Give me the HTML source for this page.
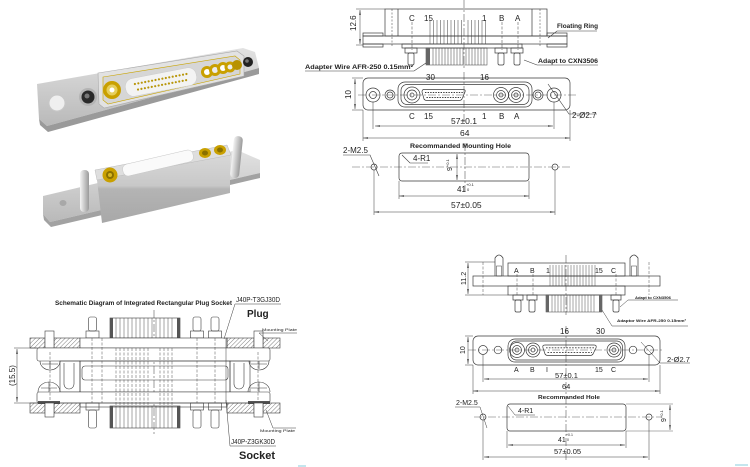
<!DOCTYPE html>
<html><head><meta charset="utf-8"><style>
html,body{margin:0;padding:0;background:#fff;}
svg{display:block;}
text{font-family:"Liberation Sans",sans-serif;fill:#222;stroke:none;}
.n{font-family:"Liberation Sans Narrow","Liberation Sans",sans-serif;}
.b{font-weight:bold;}
</style></head><body>
<svg width="750" height="467" viewBox="0 0 750 467" xmlns="http://www.w3.org/2000/svg">
<defs>
<marker id="a" viewBox="0 0 10 10" refX="10" refY="5" markerUnits="userSpaceOnUse" markerWidth="5" markerHeight="5" orient="auto-start-reverse"><path d="M0,3.4 L10,5 L0,6.6 z" fill="#333"/></marker>
<pattern id="h" patternUnits="userSpaceOnUse" width="3" height="3" patternTransform="rotate(45)"><line x1="0" y1="0" x2="0" y2="3" stroke="#444" stroke-width="0.7"/></pattern>
<linearGradient id="gf" x1="0" y1="0" x2="0" y2="1"><stop offset="0" stop-color="#e2e2e2"/><stop offset="1" stop-color="#b9b9b9"/></linearGradient>
<linearGradient id="gb" x1="0" y1="0" x2="0" y2="1"><stop offset="0" stop-color="#d8d8d8"/><stop offset="0.45" stop-color="#c8c8c8"/><stop offset="0.5" stop-color="#b4b4b4"/><stop offset="1" stop-color="#a8a8a8"/></linearGradient>
<linearGradient id="gp" x1="0" y1="0" x2="1" y2="0"><stop offset="0" stop-color="#f4f4f4"/><stop offset="1" stop-color="#9a9a9a"/></linearGradient>
</defs>

<!-- ============ PHOTO ============ -->
<g>
<polygon points="37,84 243,48 255,52 259,68 47,126 39,119" fill="url(#gf)"/>
<polygon points="39,119 47,126 259,68 259,74 48,132 40,125" fill="#9a9a9a"/>
<ellipse cx="57" cy="103" rx="8" ry="8" fill="#efefef" stroke="#c8c8c8"/>
<circle cx="88" cy="97" r="9" fill="#b4b4b4"/>
<circle cx="88" cy="97" r="6.5" fill="#2a2a2a"/>
<circle cx="87" cy="96" r="2.5" fill="#777"/>
<polygon points="98,73 237,51 244,56 244,76 104,108 99,104" fill="#e2e2e2" stroke="#aaa" stroke-width="0.6"/>
<polygon points="103,77 235,56 240,60 240,74 108,104 103,100" fill="#d6d6d6" stroke="#c9a400" stroke-width="0.6"/>
<g transform="translate(161,82) rotate(-11)">
<rect x="-36" y="-9" width="72" height="18" rx="8" fill="#f3f3f3" stroke="#ccc" stroke-width="0.5"/>
<g fill="#b8960a">
<circle cx="-26" cy="-3" r="1.1"/><circle cx="-22.5" cy="-3" r="1.1"/><circle cx="-19" cy="-3" r="1.1"/><circle cx="-15.5" cy="-3" r="1.1"/><circle cx="-12" cy="-3" r="1.1"/><circle cx="-8.5" cy="-3" r="1.1"/><circle cx="-5" cy="-3" r="1.1"/><circle cx="-1.5" cy="-3" r="1.1"/><circle cx="2" cy="-3" r="1.1"/><circle cx="5.5" cy="-3" r="1.1"/><circle cx="9" cy="-3" r="1.1"/><circle cx="12.5" cy="-3" r="1.1"/><circle cx="16" cy="-3" r="1.1"/><circle cx="19.5" cy="-3" r="1.1"/><circle cx="23" cy="-3" r="1.1"/><circle cx="26.5" cy="-3" r="1.1"/>
<circle cx="-24" cy="3" r="1.1"/><circle cx="-20.5" cy="3" r="1.1"/><circle cx="-17" cy="3" r="1.1"/><circle cx="-13.5" cy="3" r="1.1"/><circle cx="-10" cy="3" r="1.1"/><circle cx="-6.5" cy="3" r="1.1"/><circle cx="-3" cy="3" r="1.1"/><circle cx="0.5" cy="3" r="1.1"/><circle cx="4" cy="3" r="1.1"/><circle cx="7.5" cy="3" r="1.1"/><circle cx="11" cy="3" r="1.1"/><circle cx="14.5" cy="3" r="1.1"/><circle cx="18" cy="3" r="1.1"/><circle cx="21.5" cy="3" r="1.1"/><circle cx="25" cy="3" r="1.1"/>
</g></g>
<circle cx="112" cy="90" r="9" fill="#c9a000"/><circle cx="112" cy="90" r="5.5" fill="#e6cf5c"/><circle cx="112" cy="90" r="2.5" fill="#fff"/>
<circle cx="207" cy="72" r="6" fill="#c9a000"/><circle cx="207" cy="72" r="3" fill="#fff"/>
<circle cx="215" cy="70" r="6" fill="#c9a000"/><circle cx="215" cy="70" r="3" fill="#ececec"/>
<circle cx="223" cy="68" r="6" fill="#c9a000"/><circle cx="223" cy="68" r="3" fill="#fff"/>
<circle cx="230" cy="67" r="5.5" fill="#c9a000"/><circle cx="230" cy="67" r="2.5" fill="#eee"/>
<circle cx="237" cy="65" r="5" fill="#b89200"/>
<circle cx="248" cy="62" r="5" fill="#222"/><circle cx="247" cy="61" r="1.8" fill="#777"/>

<polygon points="43,196 237,150 260,160 260,173 50,222 43,214" fill="url(#gf)"/>
<polygon points="43,214 50,222 260,173 260,178 51,227 44,220" fill="#a2a2a2"/>
<ellipse cx="63" cy="203" rx="3.5" ry="3" fill="#a8a8a8"/>
<polygon points="97,180 230,155 230,193 102,223" fill="url(#gb)"/>
<polygon points="95,170 227,145 231,155 97,180" fill="#dedede" stroke="#bbb" stroke-width="0.5"/>
<g transform="translate(158,163) rotate(-13)">
<rect x="-36" y="-6" width="72" height="12" rx="5" fill="#fafafa" stroke="#c8c8c8" stroke-width="0.5"/>
</g>
<circle cx="110" cy="175" r="7.5" fill="#c9a000"/><circle cx="110" cy="175" r="4" fill="#8a7000"/><circle cx="110" cy="175" r="2" fill="#d8b820"/>
<ellipse cx="205" cy="153" rx="6" ry="5" fill="#c9a000"/><ellipse cx="205" cy="153" rx="3" ry="2.5" fill="#8a7000"/>
<ellipse cx="220" cy="150" rx="6" ry="5" fill="#c9a000"/><ellipse cx="220" cy="150" rx="3" ry="2.5" fill="#8a7000"/>
<rect x="80" y="170" width="9" height="42" rx="4" fill="url(#gp)"/>
<rect x="232" y="136" width="9" height="42" rx="4" fill="url(#gp)" transform="rotate(6 236 157)"/>
</g>

<!-- ============ TOP-RIGHT SIDE VIEW ============ -->
<g stroke="#3a3a3a" stroke-width="0.7" fill="none">
<line x1="464" y1="0" x2="464" y2="70" stroke-dasharray="8 2 2 2" stroke-width="0.5"/>
<rect x="385" y="9" width="162" height="27"/>
<line x1="398" y1="9" x2="398" y2="36"/><line x1="532" y1="9" x2="532" y2="36"/>
<line x1="392" y1="9" x2="392" y2="47" stroke-dasharray="2 1.5" stroke-width="0.5"/>
<line x1="540" y1="9" x2="540" y2="47" stroke-dasharray="2 1.5" stroke-width="0.5"/>
<rect x="363" y="36" width="204" height="8"/>
<rect x="363" y="33" width="20" height="3"/><rect x="547" y="33" width="20" height="3"/>
<rect x="363" y="44" width="20" height="3"/><rect x="547" y="44" width="20" height="3"/>
<rect x="402" y="44" width="120" height="4"/>
<g stroke-width="0.5">
<line x1="412" y1="22" x2="412" y2="50" stroke-dasharray="3 1.5"/>
<line x1="502" y1="22" x2="502" y2="50" stroke-dasharray="3 1.5"/>
<line x1="518" y1="22" x2="518" y2="50" stroke-dasharray="3 1.5"/>
<path d="M430,20V44M433.5,20V44M437,20V44M440.5,20V44M444,20V44M447.5,20V44M451,20V44M454.5,20V44M458,20V44M461.5,20V44M468,20V44M471.5,20V44M475,20V44M478.5,20V44M482,20V44M485.5,20V44"/>
</g>
<rect x="405" y="48" width="12" height="5"/><rect x="408" y="53" width="6" height="12" rx="1.5"/>
<rect x="495" y="48" width="12" height="5"/><rect x="498" y="53" width="6" height="12" rx="1.5"/>
<rect x="511" y="48" width="12" height="5"/><rect x="514" y="53" width="6" height="12" rx="1.5"/>
<rect x="426" y="48" width="61" height="17" stroke-width="0.5"/>
<rect x="426" y="48" width="4" height="17" fill="#666" stroke="none"/>
<path stroke-width="0.5" d="M433,48V65M436,48V65M439,48V65M442,48V65M445,48V65M448,48V65M451,48V65M454,48V65M457,48V65M460,48V65M463,48V65M466,48V65M469,48V65M472,48V65M475,48V65M478,48V65M481,48V65M484,48V65"/>
<line x1="360" y1="10" x2="360" y2="44" marker-start="url(#a)" marker-end="url(#a)" stroke-width="0.5"/>
<line x1="356" y1="9" x2="385" y2="9" stroke-width="0.5"/><line x1="356" y1="45" x2="363" y2="45" stroke-width="0.5"/>
<path d="M597,31H557L548,38" stroke-width="0.6"/>
<path d="M598,65H537L524,60" stroke-width="0.6"/>
<path d="M305,71H414L426,63" stroke-width="0.6"/>
</g>
<text class="n" font-size="8" x="409" y="21">C</text>
<text class="n" font-size="8" x="424" y="21">15</text>
<text class="n" font-size="8" x="482" y="21">1</text>
<text class="n" font-size="8" x="499" y="21">B</text>
<text class="n" font-size="8" x="515" y="21">A</text>
<text class="n" font-size="8" transform="translate(356,31) rotate(-90)">12.6</text>
<text class="b" font-size="6.5" x="557" y="28" textLength="41" lengthAdjust="spacingAndGlyphs">Floating Ring</text>
<text class="b" font-size="6.5" x="538" y="63" textLength="60" lengthAdjust="spacingAndGlyphs">Adapt to CXN3506</text>
<text class="b" font-size="6.5" x="305" y="69" textLength="108" lengthAdjust="spacingAndGlyphs">Adapter Wire AFR-250  0.15mm²</text>

<!-- ============ TOP-RIGHT FRONT VIEW ============ -->
<g stroke="#3a3a3a" stroke-width="0.7" fill="none">
<line x1="358" y1="95" x2="578" y2="95" stroke-dasharray="8 2 2 2" stroke-width="0.4"/>
<line x1="464" y1="72" x2="464" y2="122" stroke-dasharray="8 2 2 2" stroke-width="0.5"/>
<rect x="363" y="78" width="207" height="32" rx="5"/>
<rect x="398" y="82" width="134" height="25" rx="7"/>
<rect x="401" y="84.5" width="128" height="20" rx="6"/>
<circle cx="373" cy="95" r="7"/><circle cx="373" cy="95" r="3.5"/>
<circle cx="390" cy="95" r="5"/><circle cx="390" cy="95" r="3"/>
<circle cx="538" cy="95" r="5"/><circle cx="538" cy="95" r="3"/>
<circle cx="554" cy="95" r="7"/><circle cx="554" cy="95" r="3.5"/>
<circle cx="412" cy="95" r="8"/><circle cx="412" cy="95" r="5"/><circle cx="412" cy="95" r="2"/>
<circle cx="501" cy="95" r="7.5"/><circle cx="501" cy="95" r="4.5"/><circle cx="501" cy="95" r="2"/>
<circle cx="516" cy="95" r="7.5"/><circle cx="516" cy="95" r="4.5"/><circle cx="516" cy="95" r="2"/>
<path d="M424,89.5H463Q466,89.5 465,92L462,99Q461,100.5 459,100.5H427Q425,100.5 424,99L422,92Q422,89.5 424,89.5Z"/>
<path stroke-width="0.9" stroke-dasharray="1.4 1.2" d="M425,92.5H463M426.5,97.5H461"/>
<line x1="375" y1="126" x2="553" y2="126" marker-start="url(#a)" marker-end="url(#a)" stroke-width="0.5"/>
<line x1="373" y1="102" x2="373" y2="129" stroke-width="0.5"/><line x1="554" y1="102" x2="554" y2="129" stroke-width="0.5"/>
<line x1="363" y1="138" x2="570" y2="138" marker-start="url(#a)" marker-end="url(#a)" stroke-width="0.5"/>
<line x1="363" y1="110" x2="363" y2="141" stroke-width="0.5"/><line x1="570" y1="110" x2="570" y2="141" stroke-width="0.5"/>
<line x1="355" y1="79" x2="355" y2="109" marker-start="url(#a)" marker-end="url(#a)" stroke-width="0.5"/>
<line x1="352" y1="78" x2="363" y2="78" stroke-width="0.5"/><line x1="352" y1="110" x2="363" y2="110" stroke-width="0.5"/>
<path d="M548,84L569,114H597" stroke-width="0.6"/>
</g>
<text class="n" font-size="8" x="426" y="80">30</text>
<text class="n" font-size="8" x="480" y="80">16</text>
<text class="n" font-size="8" x="409" y="119">C</text>
<text class="n" font-size="8" x="424" y="119">15</text>
<text class="n" font-size="8" x="482" y="119">1</text>
<text class="n" font-size="8" x="499" y="119">B</text>
<text class="n" font-size="8" x="514" y="119">A</text>
<text class="n" font-size="8.5" x="451" y="124">57±0.1</text>
<text class="n" font-size="8.5" x="460" y="136">64</text>
<text class="n" font-size="8" transform="translate(351,99) rotate(-90)">10</text>
<text class="n" font-size="8" x="572" y="118">2-Ø2.7</text>

<!-- ============ TOP-RIGHT MOUNTING HOLE ============ -->
<g stroke="#3a3a3a" stroke-width="0.7" fill="none">
<line x1="352" y1="167" x2="570" y2="167" stroke-dasharray="8 2 2 2" stroke-width="0.4"/>
<line x1="465" y1="143" x2="465" y2="192" stroke-dasharray="8 2 2 2" stroke-width="0.5"/>
<rect x="399" y="153" width="130" height="28" rx="3"/>
<circle cx="374" cy="167" r="3"/><circle cx="555" cy="167" r="3"/>
<path d="M343,155H370L379,176" stroke-width="0.6"/>
<path d="M402,155L410,163H428" stroke-width="0.6"/>
<line x1="457" y1="154" x2="457" y2="180" marker-start="url(#a)" marker-end="url(#a)" stroke-width="0.5"/>
<line x1="399" y1="196" x2="529" y2="196" marker-start="url(#a)" marker-end="url(#a)" stroke-width="0.5"/>
<line x1="399" y1="181" x2="399" y2="199" stroke-width="0.5"/><line x1="529" y1="181" x2="529" y2="199" stroke-width="0.5"/>
<line x1="374" y1="212" x2="555" y2="212" marker-start="url(#a)" marker-end="url(#a)" stroke-width="0.5"/>
<line x1="374" y1="170" x2="374" y2="215" stroke-width="0.5"/><line x1="555" y1="170" x2="555" y2="215" stroke-width="0.5"/>
</g>
<text class="b" font-size="6.5" x="410" y="148" textLength="101" lengthAdjust="spacingAndGlyphs">Recommanded Mounting Hole</text>
<text class="n" font-size="8" x="343" y="153">2-M2.5</text>
<text class="n" font-size="8" x="413" y="161">4-R1</text>
<text class="n" font-size="7" transform="translate(452,171) rotate(-90)">9<tspan font-size="4" dy="-3">+0.1</tspan></text>
<text class="n" font-size="8" x="457" y="192">41</text><text class="n" font-size="4" x="466" y="186">+0.1</text><text class="n" font-size="4" x="467" y="191">0</text>
<text class="n" font-size="8.5" x="451" y="208">57±0.05</text>

<!-- ============ BOTTOM-LEFT SCHEMATIC ============ -->
<g stroke="#3a3a3a" stroke-width="0.6" fill="none">
<line x1="154" y1="310" x2="154" y2="434" stroke-dasharray="8 2 2 2" stroke-width="0.5"/>
<rect x="88.5" y="317" width="8" height="14" rx="2"/><rect x="86" y="331" width="13" height="7"/>
<rect x="193" y="317" width="8" height="14" rx="2"/><rect x="190.5" y="331" width="13" height="7"/>
<rect x="211" y="317" width="8" height="14" rx="2"/><rect x="208.5" y="331" width="13" height="7"/>
<rect x="110" y="318" width="70" height="20"/>
<rect x="110" y="318" width="3" height="20" fill="#555" stroke="none"/><rect x="177" y="318" width="3" height="20" fill="#555" stroke="none"/>
<path stroke-width="0.45" d="M116,318V338M120,318V338M124,318V338M128,318V338M132,318V338M136,318V338M140,318V338M144,318V338M148,318V338M152,318V338M156,318V338M160,318V338M164,318V338M168,318V338M172,318V338"/>
<rect x="30" y="338" width="15" height="10" fill="url(#h)"/>
<rect x="54" y="338" width="26" height="10" fill="url(#h)"/>
<rect x="227" y="338" width="27" height="10" fill="url(#h)"/>
<rect x="263" y="338" width="17" height="10" fill="url(#h)"/>
<rect x="80" y="338" width="147" height="10" fill="#fff"/>
<rect x="45" y="331" width="9" height="17" fill="#fff"/>
<rect x="254" y="331" width="9" height="17" fill="#fff"/>
<rect x="37" y="348" width="233" height="13" rx="2" fill="#fff"/>
<rect x="60" y="361" width="20" height="31"/>
<path d="M64,363V384A5,5 0 0 0 74,384V363"/>
<rect x="230" y="361" width="20" height="31"/>
<path d="M234,363V384A5,5 0 0 0 244,384V363"/>
<rect x="80" y="361" width="150" height="31"/>
<rect x="82" y="366" width="146" height="14" rx="3"/>
<path d="M40,361A10,9 0 0 0 60,361M50,361V369M42,364L58,364"/>
<path d="M249,361A10,9 0 0 0 269,361M259,361V369M251,364L267,364"/>
<path d="M38,392A11,10 0 0 1 60,392M49,382V392M41,388H57"/>
<path d="M248,392A11,10 0 0 1 270,392M259,382V392M251,388H267"/>
<rect x="37" y="392" width="233" height="11" rx="2" fill="#fff"/>
<rect x="38" y="401" width="22" height="3" fill="#555" stroke="none"/>
<rect x="248" y="401" width="22" height="3" fill="#555" stroke="none"/>
<rect x="30" y="403" width="15" height="10" fill="url(#h)"/>
<rect x="54" y="403" width="26" height="10" fill="url(#h)"/>
<rect x="227" y="403" width="27" height="10" fill="url(#h)"/>
<rect x="263" y="403" width="17" height="10" fill="url(#h)"/>
<rect x="80" y="403" width="147" height="4"/>
<rect x="45" y="403" width="9" height="14" fill="#fff"/>
<rect x="254" y="403" width="9" height="14" fill="#fff"/>
<rect x="86" y="403" width="13" height="7"/><rect x="88.5" y="410" width="8" height="18" rx="2"/>
<rect x="190.5" y="403" width="13" height="7"/><rect x="193" y="410" width="8" height="18" rx="2"/>
<rect x="208.5" y="403" width="13" height="7"/><rect x="211" y="410" width="8" height="18" rx="2"/>
<rect x="110" y="406" width="70" height="22"/>
<rect x="110" y="406" width="3" height="22" fill="#555" stroke="none"/><rect x="177" y="406" width="3" height="22" fill="#555" stroke="none"/>
<path stroke-width="0.45" d="M116,406V428M120,406V428M124,406V428M128,406V428M132,406V428M136,406V428M140,406V428M144,406V428M148,406V428M152,406V428M156,406V428M160,406V428M164,406V428M168,406V428M172,406V428"/>
<path stroke-width="0.45" stroke-dasharray="3 1.5" d="M92,338V403M102,338V403M116,348V406M120,348V406M124,348V406M128,348V406M132,348V406M136,348V406M140,348V406M144,348V406M148,348V406M160,348V406M164,348V406M168,348V406M172,348V406M197,338V403M215,338V403M50,352V400M258,352V400"/>
<line x1="226" y1="338" x2="226" y2="403" stroke-width="0.5"/>
<line x1="17" y1="349" x2="17" y2="402" marker-start="url(#a)" marker-end="url(#a)" stroke-width="0.5"/>
<line x1="14" y1="348" x2="37" y2="348" stroke-width="0.5"/><line x1="14" y1="403" x2="37" y2="403" stroke-width="0.5"/>
<path d="M281,304H235L224,339" stroke-width="0.5"/>
<path d="M297,333H259L268,341" stroke-width="0.5"/>
<path d="M266,410L273,428H296" stroke-width="0.5"/>
<path d="M226,400L230,446H276" stroke-width="0.5"/>
</g>
<text class="b" font-size="6" x="55" y="305" textLength="177" lengthAdjust="spacingAndGlyphs">Schematic Diagram of Integrated Rectangular Plug Socket</text>
<text class="n" font-size="7" x="236" y="302" textLength="44" lengthAdjust="spacingAndGlyphs">J40P-T3GJ30D</text>
<text class="b" font-size="10" x="247" y="317">Plug</text>
<text font-size="4" x="262" y="331" textLength="35" lengthAdjust="spacingAndGlyphs">Mounting Plate</text>
<text font-size="4" x="260" y="432" textLength="35" lengthAdjust="spacingAndGlyphs">Mounting Plate</text>
<text class="n" font-size="7" x="231" y="444" textLength="44" lengthAdjust="spacingAndGlyphs">J40P-Z3GK30D</text>
<text class="b" font-size="11" x="239" y="459">Socket</text>
<text class="n" font-size="8" transform="translate(15,386) rotate(-90)">(15.5)</text>
<line x1="298" y1="466" x2="306" y2="466" stroke="#8cd" stroke-width="1"/>

<!-- ============ BOTTOM-RIGHT SIDE VIEW ============ -->
<g stroke="#3a3a3a" stroke-width="0.7" fill="none">
<line x1="566" y1="255" x2="566" y2="315" stroke-dasharray="8 2 2 2" stroke-width="0.5"/>
<path d="M495,276V258Q499,252 503,258V276"/><rect x="496.5" y="266" width="5" height="10" stroke-width="0.5"/>
<path d="M630,276V258Q634,252 638,258V276"/><rect x="631.5" y="266" width="5" height="10" stroke-width="0.5"/>
<rect x="508" y="263" width="117" height="13"/>
<rect x="473" y="276" width="187" height="10"/>
<rect x="508" y="286" width="117" height="9"/>
<path stroke-width="0.45" d="M550,265V286M553,265V286M556,265V286M559,265V286M562,265V286M565,265V286M568,265V286M571,265V286M574,265V286M577,265V286M580,265V286M583,265V286M586,265V286M589,265V286M592,265V286M595,265V286"/>
<path stroke-width="0.45" stroke-dasharray="3 1.5" d="M517,274V296M533,274V296M616,274V296M483,262V295M649,262V295"/>
<rect x="513" y="295" width="10" height="5"/><rect x="515" y="300" width="6" height="12" rx="1.5"/>
<rect x="527" y="295" width="10" height="5"/><rect x="529" y="300" width="6" height="12" rx="1.5"/>
<rect x="611" y="295" width="10" height="5"/><rect x="613" y="300" width="6" height="12" rx="1.5"/>
<rect x="546" y="295" width="56" height="17" stroke-width="0.5"/>
<rect x="546" y="295" width="3" height="17" fill="#666" stroke="none"/><rect x="599" y="295" width="3" height="17" fill="#666" stroke="none"/>
<path stroke-width="0.45" d="M552,295V312M555,295V312M558,295V312M561,295V312M564,295V312M567,295V312M570,295V312M573,295V312M576,295V312M579,295V312M582,295V312M585,295V312M588,295V312M591,295V312M594,295V312"/>
<line x1="468" y1="263" x2="468" y2="294" marker-start="url(#a)" marker-end="url(#a)" stroke-width="0.5"/>
<line x1="465" y1="262" x2="495" y2="262" stroke-width="0.5"/><line x1="465" y1="295" x2="508" y2="295" stroke-width="0.5"/>
<path d="M620,307L628,300H678" stroke-width="0.5"/>
<path d="M602,310L612,326H688" stroke-width="0.5"/>
</g>
<text class="n" font-size="7" x="514" y="273">A</text>
<text class="n" font-size="7" x="530" y="273">B</text>
<text class="n" font-size="7" x="546" y="273">1</text>
<text class="n" font-size="7" x="595" y="273">15</text>
<text class="n" font-size="7" x="611" y="273">C</text>
<text class="n" font-size="7" transform="translate(466,285) rotate(-90)">11.2</text>
<text class="b" font-size="3.6" x="635" y="299" textLength="36" lengthAdjust="spacingAndGlyphs">Adapt to CXN3506</text>
<text class="b" font-size="3.6" x="617" y="322" textLength="69" lengthAdjust="spacingAndGlyphs">Adaptor Wire AFR-250 0.15mm²</text>

<!-- ============ BOTTOM-RIGHT FRONT VIEW ============ -->
<g stroke="#3a3a3a" stroke-width="0.7" fill="none">
<line x1="468" y1="350" x2="664" y2="350" stroke-dasharray="8 2 2 2" stroke-width="0.4"/>
<line x1="566" y1="326" x2="566" y2="462" stroke-dasharray="8 2 2 2" stroke-width="0.5"/>
<rect x="473" y="336" width="187" height="29" rx="5"/>
<rect x="508" y="339" width="117" height="23" rx="7"/>
<rect x="510.5" y="341" width="112" height="19" rx="6"/>
<circle cx="483" cy="350" r="4.5"/><circle cx="498" cy="350" r="3.8"/>
<circle cx="633" cy="350" r="3.8"/><circle cx="649" cy="350" r="4.5"/>
<circle cx="517" cy="350" r="7.5"/><circle cx="517" cy="350" r="4.5"/><circle cx="517" cy="350" r="2"/>
<circle cx="533" cy="350" r="7"/><circle cx="533" cy="350" r="4.5"/><circle cx="533" cy="350" r="2"/>
<circle cx="614" cy="350" r="7"/><circle cx="614" cy="350" r="4.5"/><circle cx="614" cy="350" r="2"/>
<path d="M545,345H594Q597,345 596,348L593,354Q592,355.5 590,355.5H548Q546,355.5 545,354L543,348Q542,345 545,345Z"/>
<path stroke-width="0.9" stroke-dasharray="1.6 1.3" d="M546,347.8H594M547.5,352.6H592"/>
<line x1="484" y1="379" x2="648" y2="379" marker-start="url(#a)" marker-end="url(#a)" stroke-width="0.5"/>
<line x1="483" y1="355" x2="483" y2="382" stroke-width="0.5"/><line x1="649" y1="355" x2="649" y2="382" stroke-width="0.5"/>
<line x1="473" y1="391" x2="660" y2="391" marker-start="url(#a)" marker-end="url(#a)" stroke-width="0.5"/>
<line x1="473" y1="365" x2="473" y2="394" stroke-width="0.5"/><line x1="660" y1="365" x2="660" y2="394" stroke-width="0.5"/>
<line x1="468" y1="337" x2="468" y2="364" marker-start="url(#a)" marker-end="url(#a)" stroke-width="0.5"/>
<line x1="465" y1="336" x2="473" y2="336" stroke-width="0.5"/><line x1="465" y1="365" x2="473" y2="365" stroke-width="0.5"/>
<path d="M641,342L660,363H690" stroke-width="0.5"/>
</g>
<text class="n" font-size="8" x="560" y="334">16</text>
<text class="n" font-size="8" x="596" y="334">30</text>
<text class="n" font-size="7" x="514" y="372">A</text>
<text class="n" font-size="7" x="530" y="372">B</text>
<text class="n" font-size="7" x="546" y="372">I</text>
<text class="n" font-size="7" x="595" y="372">15</text>
<text class="n" font-size="7" x="611" y="372">C</text>
<text class="n" font-size="7.5" x="555" y="378">57±0.1</text>
<text class="n" font-size="7.5" x="562" y="389">64</text>
<text class="n" font-size="7" transform="translate(465,354) rotate(-90)">10</text>
<text class="n" font-size="7.5" x="667" y="362">2-Ø2.7</text>

<!-- ============ BOTTOM-RIGHT HOLE ============ -->
<g stroke="#3a3a3a" stroke-width="0.7" fill="none">
<line x1="474" y1="417" x2="662" y2="417" stroke-dasharray="8 2 2 2" stroke-width="0.4"/>
<rect x="507" y="404" width="119" height="27" rx="3"/>
<circle cx="483" cy="417" r="3"/><circle cx="649" cy="417" r="3"/>
<path d="M455,407H480L487,428" stroke-width="0.5"/>
<path d="M508,406L515,415H535" stroke-width="0.5"/>
<line x1="670" y1="405" x2="670" y2="430" marker-start="url(#a)" marker-end="url(#a)" stroke-width="0.5"/>
<line x1="626" y1="404" x2="673" y2="404" stroke-width="0.4"/><line x1="626" y1="431" x2="673" y2="431" stroke-width="0.4"/>
<line x1="508" y1="445" x2="625" y2="445" marker-start="url(#a)" marker-end="url(#a)" stroke-width="0.5"/>
<line x1="507" y1="431" x2="507" y2="448" stroke-width="0.5"/><line x1="626" y1="431" x2="626" y2="448" stroke-width="0.5"/>
<line x1="484" y1="457" x2="648" y2="457" marker-start="url(#a)" marker-end="url(#a)" stroke-width="0.5"/>
<line x1="483" y1="420" x2="483" y2="460" stroke-width="0.5"/><line x1="649" y1="420" x2="649" y2="460" stroke-width="0.5"/>
</g>
<text class="b" font-size="5" x="538" y="399" textLength="62" lengthAdjust="spacingAndGlyphs">Recommanded Hole</text>
<text class="n" font-size="7" x="456" y="405">2-M2.5</text>
<text class="n" font-size="7" x="518" y="413">4-R1</text>
<text class="n" font-size="7" transform="translate(666,422) rotate(-90)">9<tspan font-size="4" dy="-3">+0.1</tspan></text>
<text class="n" font-size="7" x="558" y="442">41</text><text class="n" font-size="3.5" x="566" y="436">+0.1</text><text class="n" font-size="3.5" x="567" y="441">0</text>
<text class="n" font-size="7.5" x="554" y="454">57±0.05</text>
<line x1="735" y1="465" x2="748" y2="465" stroke="#8cd" stroke-width="1"/>
</svg>
</body></html>
